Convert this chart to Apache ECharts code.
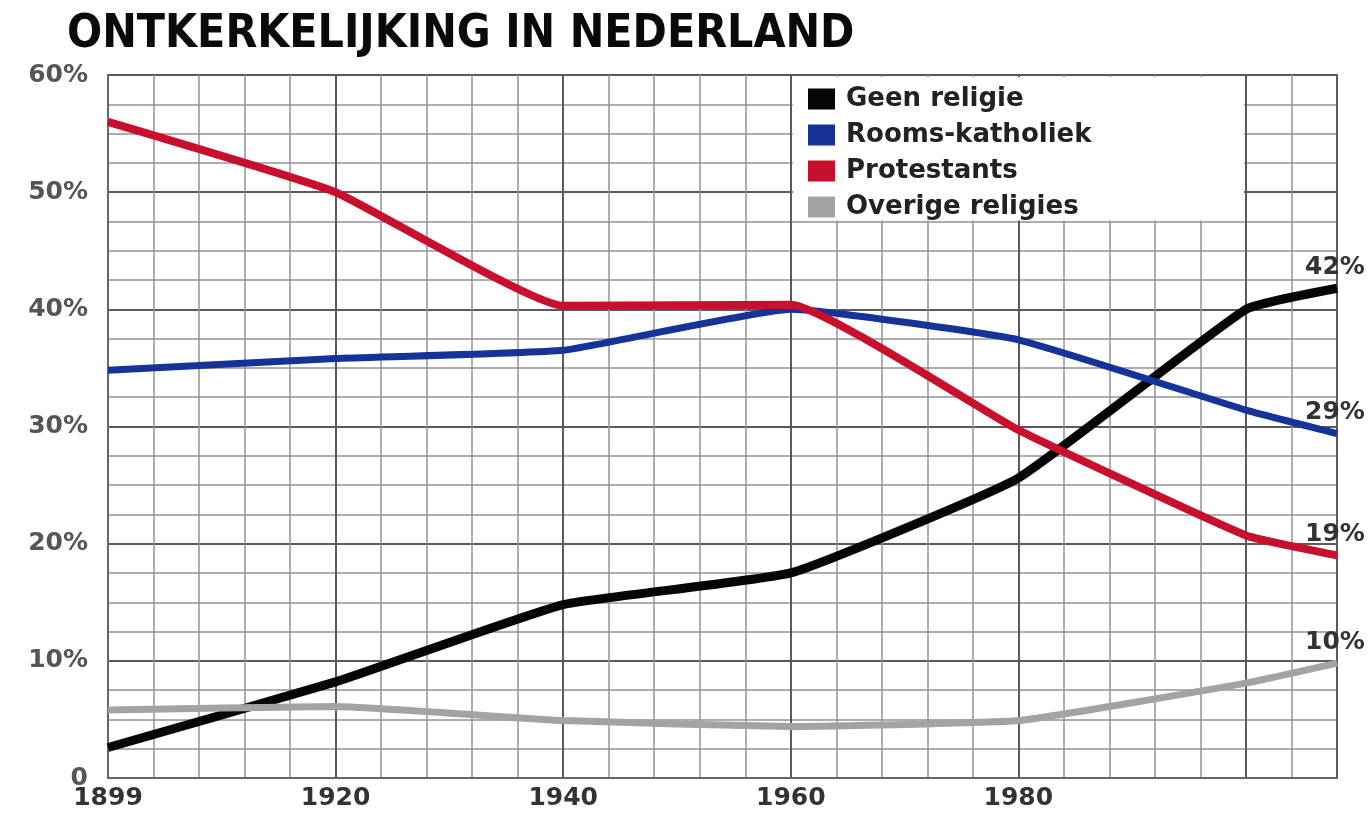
<!DOCTYPE html>
<html>
<head>
    <meta charset="utf-8">
    <title>Ontkerkelijking in Nederland</title>
    <script type="text/javascript" src="https://cdn.jsdelivr.net/npm/echarts@6/dist/echarts.min.js"></script>
</head>
<style type="text/css">
    html, body {
        margin: 0;
        padding: 0;
        background: #fff;
    }
    #chart {
        width: 1371px;
        height: 813px;
    }
</style>
<body>
    <div id="chart"></div>

    <script type="text/javascript">
        // jaartallen (1899 staat in de grafiek op de plek van 1900)
        var years = [1899, 1920, 1940, 1960, 1980, 2000, 2008];

        var geenReligie = [2.6, 8.2, 14.8, 17.5, 25.6, 40.0, 41.8];
        var roomsKatholiek = [34.8, 35.8, 36.5, 40.0, 37.4, 31.4, 29.4];
        var protestants = [56.0, 50.0, 40.3, 40.4, 29.7, 20.7, 19.0];
        var overige = [5.8, 6.1, 4.9, 4.4, 4.9, 8.1, 9.8];

        var xLabels = { 1900: '1899', 1920: '1920', 1940: '1940', 1960: '1960', 1980: '1980' };

        function pos(y) {
            return y === 1899 ? 1900 : y;
        }

        function pairs(vals) {
            return vals.map(function(v, i) {
                return [pos(years[i]), v];
            });
        }

        var fontBold = 'DejaVu Sans';

        function makeSeries(name, vals, color, width) {
            return {
                name: name,
                type: 'line',
                data: pairs(vals),
                smooth: 0.12,
                symbol: 'none',
                lineStyle: { color: color, width: width },
                itemStyle: { color: color },
                clip: false,
                endLabel: {
                    show: true,
                    offset: [-40, -21],
                    formatter: function(p) {
                        return Math.round(p.value[1]) + '%';
                    },
                    color: '#333',
                    fontFamily: fontBold,
                    fontWeight: 'bold',
                    fontSize: 25
                }
            };
        }

        var chart = echarts.init(document.getElementById('chart'));

        var series = [
            makeSeries('Geen religie', geenReligie, '#050505', 9),
            makeSeries('Overige religies', overige, '#a3a3a3', 7),
            makeSeries('Rooms-katholiek', roomsKatholiek, '#16339a', 7),
            makeSeries('Protestants', protestants, '#c8102e', 8)
        ];

        var option = {
            animation: false,
            backgroundColor: '#fff',
            title: {
                text: 'ONTKERKELIJKING IN NEDERLAND',
                left: 62,
                top: 7,
                textStyle: {
                    fontFamily: 'DejaVu Sans Condensed',
                    fontWeight: 'bold',
                    fontSize: 46,
                    color: '#0a0a0a'
                }
            },
            legend: {
                data: ['Geen religie', 'Rooms-katholiek', 'Protestants', 'Overige religies'],
                orient: 'vertical',
                left: 808,
                top: 86,
                z: 60,
                padding: 0,
                icon: 'rect',
                itemWidth: 27,
                itemHeight: 21,
                itemGap: 10,
                textStyle: {
                    fontFamily: fontBold,
                    fontWeight: 'bold',
                    fontSize: 26,
                    color: '#222',
                    padding: [0, 0, 0, 6]
                }
            },
            grid: {
                left: 108,
                right: 34,
                top: 75,
                bottom: 35,
                show: true,
                borderColor: '#666',
                borderWidth: 2
            },
            xAxis: {
                type: 'value',
                min: 1900,
                max: 2008,
                interval: 20,
                axisLine: { show: true, lineStyle: { color: '#666', width: 2 } },
                axisTick: { show: false },
                axisLabel: {
                    margin: 8,
                    color: '#333',
                    fontFamily: fontBold,
                    fontWeight: 'bold',
                    fontSize: 25,
                    formatter: function(v) {
                        return xLabels[v] || '';
                    }
                },
                splitLine: { show: true, lineStyle: { color: '#5a5a5a', width: 2 } },
                minorTick: { show: false, splitNumber: 5 },
                minorSplitLine: { show: true, lineStyle: { color: '#949494', width: 1.5 } }
            },
            yAxis: {
                type: 'value',
                min: 0,
                max: 60,
                interval: 10,
                axisLine: { show: true, lineStyle: { color: '#666', width: 2 } },
                axisTick: { show: false },
                axisLabel: {
                    margin: 20,
                    color: '#555',
                    fontFamily: fontBold,
                    fontWeight: 'bold',
                    fontSize: 25,
                    formatter: function(v) {
                        return v === 0 ? '0' : v + '%';
                    }
                },
                splitLine: { show: true, lineStyle: { color: '#5a5a5a', width: 2 } },
                minorTick: { show: false, splitNumber: 4 },
                minorSplitLine: { show: true, lineStyle: { color: '#949494', width: 1.5 } }
            },
            series: series
        };

        chart.setOption(option);

        // wit vlak achter de legenda, tussen de lijnen van 1960 en 2000
        var p1 = chart.convertToPixel({ gridIndex: 0 }, [1960, 60]);
        var p2 = chart.convertToPixel({ gridIndex: 0 }, [2000, 47.5]);
        chart.setOption({
            graphic: [{
                type: 'rect',
                z: 50,
                shape: {
                    x: p1[0] + 2,
                    y: p1[1] + 2,
                    width: p2[0] - p1[0] - 4,
                    height: p2[1] - p1[1] - 3
                },
                style: { fill: '#ffffff' }
            }]
        });
    </script>
</body>
</html>
